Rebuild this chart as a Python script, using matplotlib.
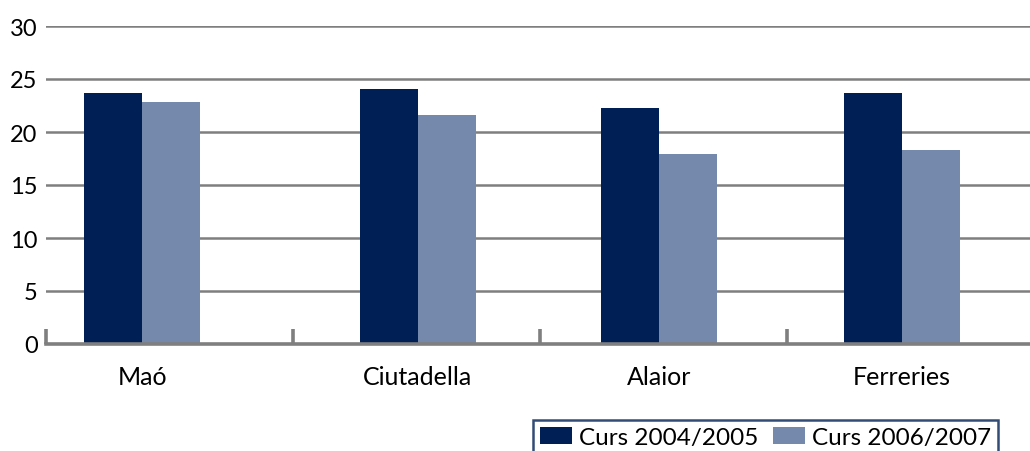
import numpy as np
import matplotlib
matplotlib.use("Agg")
import matplotlib.pyplot as plt

plt.rcParams['font.family'] = ['Lato', 'DejaVu Sans']

categories = ["Maó", "Ciutadella", "Alaior", "Ferreries"]
curs_2004 = [23.7, 24.1, 22.3, 23.7]
curs_2006 = [22.8, 21.6, 17.9, 18.3]
series_labels = ["Curs 2004/2005", "Curs 2006/2007"]
yticks = [0, 5, 10, 15, 20, 25, 30]

dark = "#001f54"
light = "#7589ad"
grey = "#7f7f7f"

fig = plt.figure(figsize=(10.30, 4.52), dpi=100)
ax = fig.add_axes([46 / 1030, 107 / 452, 984 / 1030, 318 / 452])

# group centres as drawn in the original (not evenly centred in each slot)
x = np.array([-0.111, 1.006, 1.982, 2.966])
w = 0.235
b1 = ax.bar(x - w / 2, curs_2004, w, color=dark, label=series_labels[0], zorder=3)
b2 = ax.bar(x + w / 2, curs_2006, w, color=light, label=series_labels[1], zorder=3)

ax.set_xlim(-0.5, -0.5 + 984 / 247)
ax.set_ylim(0, 30)
ax.set_yticks(yticks)
ax.set_yticklabels([str(v) for v in yticks])
ax.yaxis.grid(True, color=grey, linewidth=1.8, zorder=0)
ax.tick_params(axis='y', length=0, pad=6, labelsize=17)

ax.set_xticks(x)
ax.set_xticklabels(categories)
ax.tick_params(axis='x', which='major', length=0, pad=15, labelsize=18)
ax.set_xticks(np.arange(len(categories)) - 0.5, minor=True)
ax.tick_params(axis='x', which='minor', direction='in', length=11,
               width=2.6, color=grey)

for s in ['top', 'right', 'left']:
    ax.spines[s].set_visible(False)
ax.spines['bottom'].set_color(grey)
ax.spines['bottom'].set_linewidth(2.6)
ax.spines['bottom'].set_zorder(4)

leg = fig.legend(handles=[b1, b2], loc='upper left',
                 bbox_to_anchor=(533 / 1030, 1 - 421 / 452), ncol=2,
                 fontsize=17.5, frameon=True, fancybox=False,
                 handlelength=1.3, handleheight=0.7, handletextpad=0.3,
                 columnspacing=0.6, borderpad=0.3, borderaxespad=0)
leg.get_frame().set_edgecolor(dark)
leg.get_frame().set_linewidth(1.8)

fig.savefig("out.png", dpi=100)
